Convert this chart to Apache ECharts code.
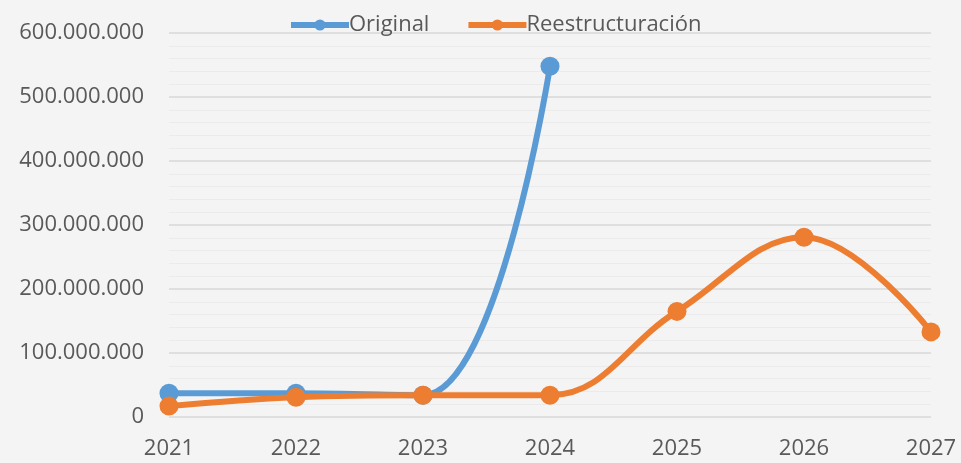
<html lang="es">
<head>
    <meta http-equiv="Content-Type" content="text/html; charset=UTF-8">
    <script type="text/javascript" src="https://cdn.jsdelivr.net/npm/echarts@6/dist/echarts.min.js"></script>
    <style>
        html, body { margin: 0; padding: 0; background: #f4f4f4; }
    </style>
</head>
<body>
<div id="main" style="height:463px;width:961px;"></div>
<script type="text/javascript">
    // datos
    var years = ['2021', '2022', '2023', '2024', '2025', '2026', '2027'];
    var original = [37000000, 37000000, 34000000, 548000000, null, null, null];
    var reestructuracion = [17000000, 31000000, 34000000, 34000000, 165000000, 281000000, 133000000];

    function miles(v) {
        return String(v).replace(/\B(?=(\d{3})+(?!\d))/g, '.');
    }

    var myChart = echarts.init(document.getElementById('main'));
    var font = '"Open Sans", "Noto Sans", sans-serif';

    var option = {
        backgroundColor: '#f4f4f4',
        animation: false,
        legend: {
            top: 9,
            left: 283,
            itemWidth: 58,
            itemHeight: 14,
            itemGap: 36,
            lineStyle: { width: 6 },
            textStyle: { fontFamily: font, fontSize: 22, color: '#595959', padding: [0, 0, 0, -5] },
            data: ['Original', 'Reestructuración']
        },
        grid: { left: 169, right: 30, top: 33, bottom: 46 },
        xAxis: {
            type: 'category',
            data: years,
            boundaryGap: false,
            axisLine: { show: false },
            axisTick: { show: false },
            axisLabel: { fontFamily: font, fontSize: 22, color: '#595959', margin: 21 }
        },
        yAxis: {
            type: 'value',
            min: 0,
            max: 600000000,
            interval: 100000000,
            axisLine: { show: false },
            axisTick: { show: false },
            axisLabel: {
                fontFamily: font, fontSize: 22, color: '#595959', margin: 25,
                formatter: miles
            },
            splitLine: { lineStyle: { color: '#d9d9d9', width: 1.5 } },
            minorTick: { show: false, splitNumber: 5 },
            minorSplitLine: { show: true, lineStyle: { color: '#ebebeb', width: 1 } }
        },
        series: [{
            name: 'Original',
            type: 'line',
            data: original,
            smooth: 0.4,
            symbol: 'circle',
            symbolSize: 19,
            color: '#5b9bd5',
            lineStyle: { width: 6 },
            z: 2
        }, {
            name: 'Reestructuración',
            type: 'line',
            data: reestructuracion,
            smooth: 0.4,
            symbol: 'circle',
            symbolSize: 19,
            color: '#ed7d31',
            lineStyle: { width: 6 },
            z: 3
        }]
    };

    myChart.setOption(option);
</script>
</body>
</html>
